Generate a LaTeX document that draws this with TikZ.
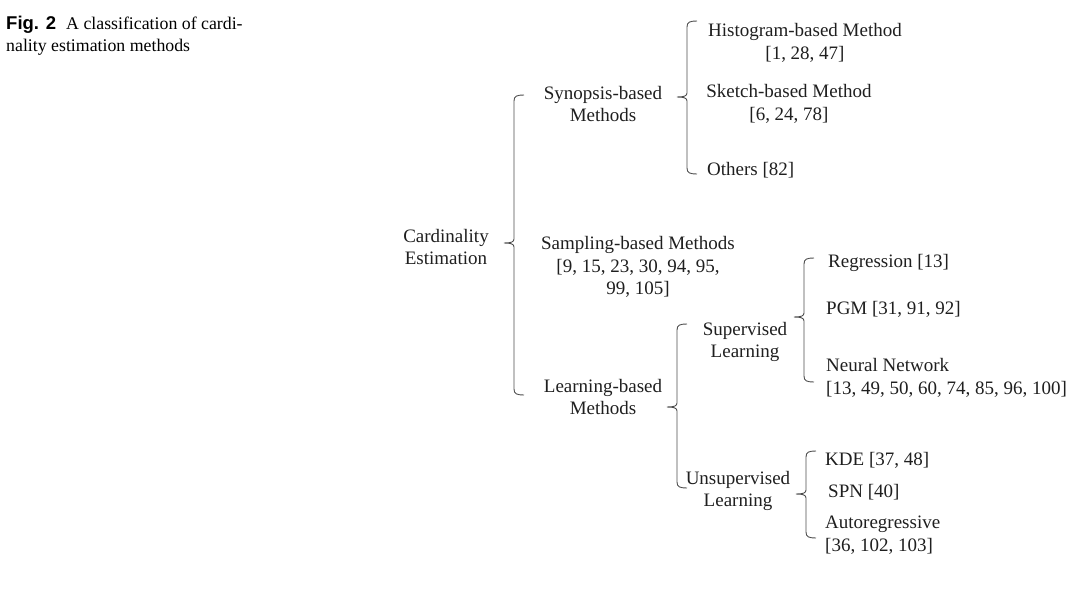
\documentclass[tikz,border=0pt]{standalone}
\usepackage{fontspec}
\setmainfont{Liberation Serif}
\newfontfamily\capsans{Liberation Sans}
\begin{document}
\begin{tikzpicture}[x=1pt,y=-1pt,
  br/.style={draw=black!70, line width=0.9pt},
  lbl/.style={inner sep=0pt, font=\fontsize{19}{22.5}\selectfont, align=center, text=black!88},
  lft/.style={lbl, anchor=west, align=left}]
\useasboundingbox (0,0) rectangle (1077,592);
\newcommand\cbrace[4]{%
  \draw[br] (#1+10,#2) .. controls (#1+3,#2) and (#1,#2+1) .. (#1,#2+6)
    -- (#1,#3-4) .. controls (#1,#3-1) and (#1-3,#3) .. (#1-10,#3)
    (#1-10,#3) .. controls (#1-3,#3) and (#1,#3+1) .. (#1,#3+4)
    -- (#1,#4-6) .. controls (#1,#4-1) and (#1+3,#4) .. (#1+10,#4);}
% caption
\node[anchor=base west, inner sep=0pt, font=\capsans\bfseries\fontsize{18.5}{22}\selectfont] (fig) at (6,29) {Fig. 2};
\node[anchor=base west, inner sep=0pt, font=\fontsize{17.8}{22}\selectfont, align=left] (cap) at (66,29) {A classification of cardi-};
\node[anchor=base west, inner sep=0pt, font=\fontsize{17.8}{22}\selectfont, align=left] (cap2) at (6,51) {nality estimation methods};
% nodes
\node[lbl] (card) at (446,247) {Cardinality\\Estimation};
\node[lbl] (syn) at (603,104) {Synopsis-based\\Methods};
\node[lbl] (samp) at (638,267) {Sampling-based Methods\\{}[9, 15, 23, 30, 94, 95,\\99, 105]};
\node[lbl] (learn) at (603,397) {Learning-based\\Methods};
\node[lbl] (hist) at (805,43) {Histogram-based Method\\{}[1, 28, 47]};
\node[lbl] (sketch) at (789,104) {Sketch-based Method\\{}[6, 24, 78]};
\node[lft] (oth) at (707,170) {Others [82]};
\node[lbl] (sup) at (745,342) {Supervised\\Learning};
\node[lbl] (unsup) at (738,491) {Unsupervised\\Learning};
\node[lft] (reg) at (828,263) {Regression [13]};
\node[lft] (pgm) at (826,309) {PGM [31, 91, 92]};
\node[lft] (nn) at (826,378) {Neural Network\\{}[13, 49, 50, 60, 74, 85, 96, 100]};
\node[lft] (kde) at (825,460) {KDE [37, 48]};
\node[lft] (spn) at (828,492) {SPN [40]};
\node[lft] (auto) at (825,535) {Autoregressive\\{}[36, 102, 103]};
% braces
\cbrace{514}{95}{243}{395}
\cbrace{687}{21}{97}{174}
\cbrace{677}{324}{407}{488}
\cbrace{804}{258}{317}{382}
\cbrace{806}{451}{494}{538}
\end{tikzpicture}
\end{document}
